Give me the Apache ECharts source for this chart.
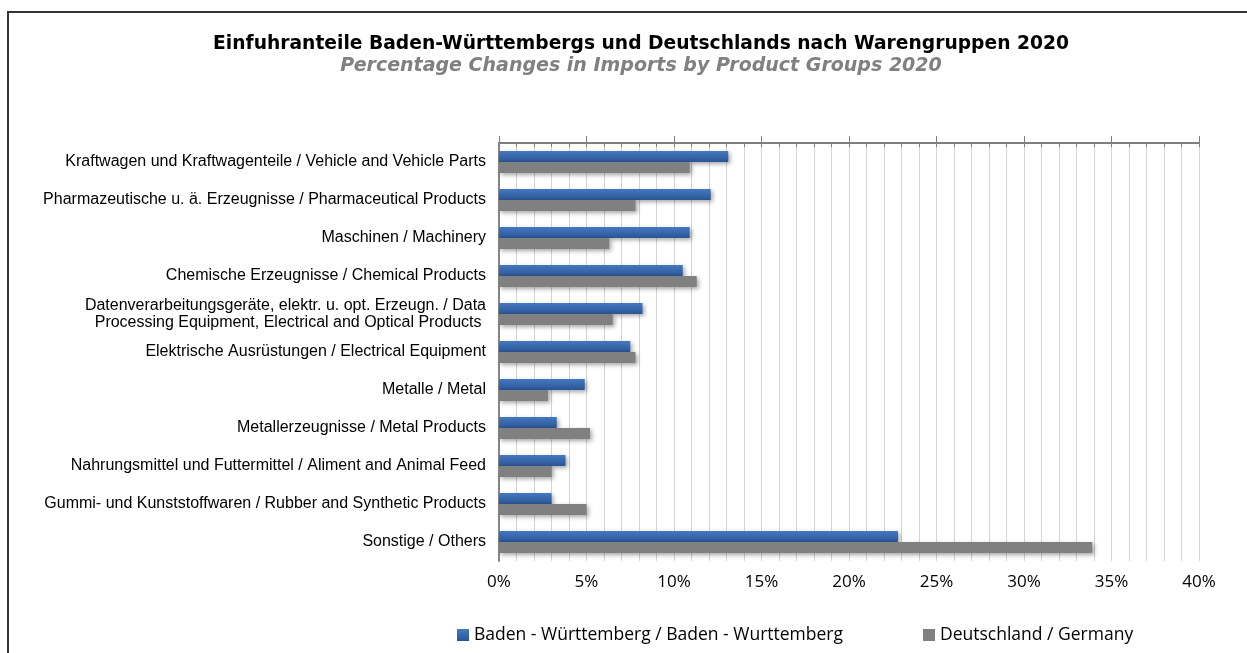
<!DOCTYPE html>
<html>
<head>
<meta charset="utf-8">
<script src="https://cdn.jsdelivr.net/npm/echarts@6/dist/echarts.min.js"></script>
<style>
  html, body { margin: 0; padding: 0; background: #fff; }
  #main { width: 1247px; height: 653px; }
</style>
</head>
<body>
<div id="main"></div>
<script>
// data
const categories = [
  'Kraftwagen und Kraftwagenteile / Vehicle and Vehicle Parts',
  'Pharmazeutische u. ä. Erzeugnisse / Pharmaceutical Products',
  'Maschinen / Machinery',
  'Chemische Erzeugnisse / Chemical Products',
  'Datenverarbeitungsgeräte, elektr. u. opt. Erzeugn. / Data\nProcessing Equipment, Electrical and Optical Products ',
  'Elektrische Ausrüstungen / Electrical Equipment',
  'Metalle / Metal',
  'Metallerzeugnisse / Metal Products',
  'Nahrungsmittel und Futtermittel / Aliment and Animal Feed',
  'Gummi- und Kunststoffwaren / Rubber and Synthetic Products',
  'Sonstige / Others'
];
const bwValues = [13.1, 12.1, 10.9, 10.5, 8.2, 7.5, 4.9, 3.3, 3.8, 3.0, 22.8];
const deValues = [10.9, 7.8, 6.3, 11.3, 6.5, 7.8, 2.8, 5.2, 3.0, 5.0, 33.9];
const seriesNames = ['Baden - Württemberg / Baden - Wurttemberg', 'Deutschland / Germany'];

const myChart = echarts.init(document.getElementById('main'));

const barShadow = {
  shadowColor: 'rgba(0,0,0,0.35)',
  shadowBlur: 4,
  shadowOffsetX: 2,
  shadowOffsetY: 2,
};

const legendText = { fontFamily: 'Open Sans', fontSize: 17.5, color: '#000' };

const option = {
  animation: false,
  backgroundColor: '#fff',
  graphic: [{
    type: 'rect',
    shape: { x: 8, y: 12, width: 1260, height: 660 },
    style: { fill: 'none', stroke: '#333', lineWidth: 2 },
    silent: true,
  }],
  title: {
    left: 636,
    top: 30,
    textAlign: 'center',
    text: 'Einfuhranteile Baden-Württembergs und Deutschlands nach Warengruppen 2020',
    textStyle: {
      fontFamily: 'DejaVu Sans',
      fontSize: 18.7,
      fontWeight: 'bold',
      color: '#000',
    },
    subtext: 'Percentage Changes in Imports by Product Groups 2020',
    subtextStyle: {
      fontFamily: 'DejaVu Sans',
      fontSize: 19,
      fontWeight: 'bold',
      fontStyle: 'italic',
      color: '#808080',
    },
    itemGap: 3,
  },
  legend: [
    {
      left: 452, top: 621,
      data: [seriesNames[0]],
      icon: 'rect', itemWidth: 12, itemHeight: 12, itemGap: 5,
      textStyle: legendText,
    },
    {
      left: 918, top: 621,
      data: [seriesNames[1]],
      icon: 'rect', itemWidth: 12, itemHeight: 12, itemGap: 5,
      textStyle: legendText,
    },
  ],
  grid: { left: 499, right: 48, top: 143, bottom: 92 },
  xAxis: [
    {
      // bottom labels
      type: 'value', position: 'bottom',
      min: 0, max: 40, interval: 5,
      axisLine: { show: false },
      axisTick: { show: false },
      splitLine: { show: false },
      axisLabel: {
        formatter: '{value}%', margin: 13,
        fontFamily: 'Open Sans', fontSize: 17, color: '#000',
      },
    },
    {
      // top line with minor ticks and grid lines every 1%
      type: 'value', position: 'top',
      min: 0, max: 40, interval: 1,
      axisLine: { show: true, lineStyle: { color: '#7f7f7f', width: 2 } },
      axisTick: { show: true, inside: true, length: 4, lineStyle: { color: '#7f7f7f' } },
      axisLabel: { show: false },
      splitLine: { show: true, lineStyle: { color: '#d4d4d4', width: 1 } },
    },
    {
      // top major ticks every 5%
      type: 'value', position: 'top',
      min: 0, max: 40, interval: 5,
      axisLine: { show: false },
      axisTick: { show: true, inside: false, length: 7, lineStyle: { color: '#7f7f7f' } },
      axisLabel: { show: false },
      splitLine: { show: false },
    },
  ],
  yAxis: {
    type: 'category',
    inverse: true,
    data: categories,
    axisLine: { show: true, lineStyle: { color: '#868686', width: 2 } },
    axisTick: { show: false },
    axisLabel: {
      margin: 13,
      fontFamily: 'Liberation Sans',
      fontSize: 16,
      color: '#000',
      lineHeight: 17,
    },
  },
  series: [
    {
      name: seriesNames[0],
      type: 'bar',
      xAxisIndex: 0,
      data: bwValues,
      barWidth: 11,
      barGap: '0%',
      itemStyle: Object.assign({
        color: new echarts.graphic.LinearGradient(0, 0, 0, 1, [
          { offset: 0, color: '#4579c0' },
          { offset: 1, color: '#2a5595' },
        ]),
      }, barShadow),
    },
    {
      name: seriesNames[1],
      type: 'bar',
      xAxisIndex: 0,
      data: deValues,
      barWidth: 11,
      barGap: '0%',
      itemStyle: Object.assign({ color: '#808080' }, barShadow),
    },
  ],
};

myChart.setOption(option);
</script>
</body>
</html>
